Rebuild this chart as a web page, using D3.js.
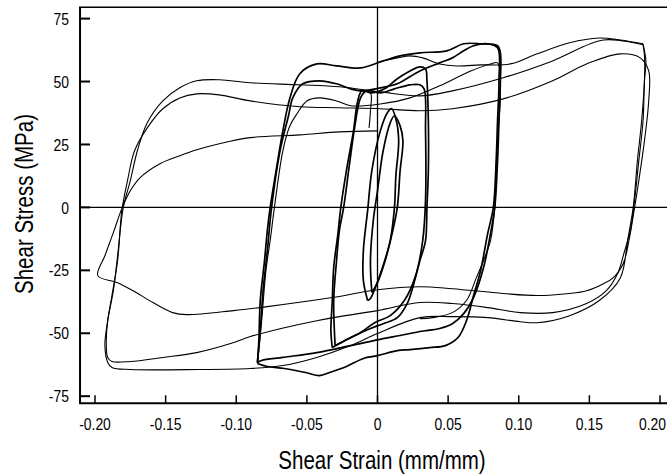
<!DOCTYPE html>
<html>
<head>
<meta charset="utf-8">
<script src="https://cdn.jsdelivr.net/npm/d3@7"></script>
<style>
	body { margin: 0; background: #fff; }
	svg { display: block; }
	.tick-label { font-family: "Liberation Sans", Arial, sans-serif; font-size: 17px; fill: #000; }
	.axis-title { font-family: "Liberation Sans", Arial, sans-serif; font-size: 25px; fill: #000; }
</style>
</head>
<body>
<div id="containerChart"></div>
<script>
// tick values for both axes
var xTicks = [-0.20, -0.15, -0.10, -0.05, 0, 0.05, 0.10, 0.15, 0.20];
var xTickLabels = ["-0.20", "-0.15", "-0.10", "-0.05", "0", "0.05", "0.10", "0.15", "0.20"];
var yTicks = [75, 50, 25, 0, -25, -50, -75];

// small cycles near the origin [strain, stress]
var tinyCycle1 = [[-0.007, -37.0], [-0.010, -29.1], [-0.010, -17.2], [-0.007, -1.3], [-0.004, 14.6], [0.002, 30.4], [0.007, 37.6],
	[0.010, 39.2], [0.013, 35.2], [0.015, 26.5], [0.013, 12.6], [0.012, -0.1], [0.009, -13.2], [0.004, -23.1], [-0.001, -31.1],
	[-0.005, -36.2], [-0.007, -37.0]];
var tinyCycle2 = [[-0.004, -33.8], [-0.005, -21.2], [-0.003, -5.3], [0.000, 6.6], [0.004, 22.5], [0.009, 33.6], [0.012, 36.4],
	[0.016, 32.4], [0.018, 26.5], [0.016, 14.6], [0.014, -0.1], [0.010, -11.2], [0.005, -21.9], [0.000, -29.9], [-0.004, -33.8]];

// cycles at about +-0.035
var smallCycle1 = [[-0.032, -55.7], [-0.033, -48.9], [-0.032, -37.0], [-0.031, -23.9], [-0.028, -10.4], [-0.026, -0.1], [-0.022, 14.6],
	[-0.017, 30.4], [-0.014, 42.3], [-0.011, 46.3], [-0.004, 45.5], [0.005, 47.1], [0.014, 51.1], [0.023, 54.2], [0.030, 55.8],
	[0.034, 55.0], [0.035, 50.3], [0.036, 34.4], [0.036, 14.6], [0.035, -0.1], [0.034, -13.2], [0.030, -21.2], [0.025, -31.7],
	[0.021, -38.2], [0.014, -43.8], [0.004, -46.2], [-0.005, -48.1], [-0.016, -50.9], [-0.023, -52.9], [-0.032, -55.7]];
var smallCycle2 = [[-0.030, -54.9], [-0.031, -37.0], [-0.029, -21.2], [-0.027, -9.2], [-0.024, -0.1], [-0.020, 16.5], [-0.016, 32.4],
	[-0.012, 43.5], [-0.008, 46.3], [0.002, 45.5], [0.012, 47.1], [0.023, 48.7], [0.030, 48.7], [0.033, 47.1], [0.034, 30.4],
	[0.034, 2.7], [0.032, -13.2], [0.027, -27.1], [0.019, -37.0], [0.009, -43.0], [-0.002, -45.8], [-0.012, -49.7],
	[-0.023, -52.9], [-0.030, -54.9]];
var smallSpur = [[-0.011, 46.3], [-0.005, 45.5], [-0.005, 38.4], [-0.006, 31.6]];

// cycles at about +-0.085
var midCycle1 = [[-0.085, -61.6], [-0.084, -52.9], [-0.083, -37.0], [-0.080, -21.2], [-0.078, -9.2], [-0.076, -0.1], [-0.071, 17.3],
	[-0.067, 30.4], [-0.062, 43.5], [-0.055, 53.1], [-0.043, 57.0], [-0.029, 56.2], [-0.012, 55.4], [0.004, 58.2], [0.016, 60.2],
	[0.030, 61.4], [0.049, 62.2], [0.061, 65.0], [0.073, 65.0], [0.085, 64.2], [0.087, 61.4], [0.087, 50.3], [0.086, 34.4],
	[0.085, 18.5], [0.083, -0.1], [0.080, -10.4], [0.075, -24.1], [0.068, -35.8], [0.061, -42.2], [0.053, -46.2], [0.044, -48.1],
	[0.030, -49.3], [0.016, -50.9], [0.004, -52.1], [-0.019, -54.9], [-0.043, -57.7], [-0.067, -59.6], [-0.082, -60.8], [-0.085, -61.6]];
var midCycle2 = [[-0.085, -61.6], [-0.083, -48.9], [-0.081, -33.1], [-0.078, -17.2], [-0.075, -0.1], [-0.069, 22.5], [-0.063, 36.4],
	[-0.060, 43.5], [-0.053, 49.1], [-0.041, 50.3], [-0.029, 49.1], [-0.019, 47.1], [-0.012, 46.3], [0.002, 47.5], [0.014, 49.1],
	[0.030, 54.2], [0.044, 57.4], [0.053, 59.4], [0.061, 62.2], [0.068, 64.2], [0.078, 65.0], [0.085, 63.4], [0.086, 50.3],
	[0.085, 34.4], [0.084, 18.5], [0.082, -0.1], [0.078, -10.4], [0.073, -25.1], [0.068, -35.0], [0.063, -45.0], [0.057, -51.7],
	[0.048, -54.9], [0.037, -55.7], [0.023, -56.5], [0.014, -56.9], [0.000, -58.9], [-0.010, -60.0], [-0.022, -63.2],
	[-0.034, -65.6], [-0.041, -66.8], [-0.051, -65.6], [-0.066, -64.0], [-0.078, -63.2], [-0.085, -62.0]];
var midCycle3 = [[-0.085, -62.0], [-0.082, -45.0], [-0.079, -25.1], [-0.076, -13.2], [-0.073, -0.1], [-0.067, 22.5], [-0.062, 32.4],
	[-0.057, 37.2], [-0.050, 42.3], [-0.041, 43.5], [-0.029, 42.3], [-0.019, 40.4], [0.002, 41.1], [0.023, 43.5], [0.044, 48.3],
	[0.066, 54.2], [0.080, 57.0], [0.085, 57.4], [0.087, 46.3], [0.085, 26.5], [0.083, -0.1], [0.080, -13.2], [0.075, -21.2],
	[0.070, -27.9], [0.063, -37.0], [0.053, -41.8], [0.039, -43.8], [0.030, -44.2]];

// large cycles at about +-0.19
var bigRise = [[0.004, 58.2], [0.014, 59.4], [0.023, 60.2], [0.032, 59.4], [0.044, 57.0], [0.056, 56.2], [0.073, 56.6], [0.094, 57.0],
	[0.113, 61.0], [0.136, 65.4], [0.157, 67.3], [0.172, 66.5], [0.188, 65.0]];
var bigCycle1 = [[0.188, 65.0], [0.190, 58.2], [0.189, 50.3], [0.188, 34.4], [0.185, 18.5], [0.182, 2.7], [0.179, -9.2], [0.175, -17.2],
	[0.170, -26.3], [0.162, -33.1], [0.148, -38.2], [0.124, -41.8], [0.101, -41.8], [0.078, -39.8], [0.053, -38.2], [0.030, -37.8],
	[0.000, -41.0], [-0.043, -45.0], [-0.090, -51.3], [-0.104, -54.1], [-0.128, -57.7], [-0.152, -59.6], [-0.175, -61.2],
	[-0.188, -61.2], [-0.191, -59.6], [-0.192, -52.9], [-0.191, -45.0], [-0.187, -33.1], [-0.184, -19.2], [-0.180, -0.1],
	[-0.175, 10.6], [-0.170, 22.5], [-0.163, 33.6], [-0.152, 42.3], [-0.140, 47.5], [-0.128, 50.3], [-0.112, 50.7], [-0.090, 49.5],
	[-0.055, 48.7], [-0.027, 47.9], [0.002, 45.9], [0.030, 44.3], [0.053, 46.3], [0.089, 51.5], [0.124, 58.2], [0.160, 66.5],
	[0.188, 64.6]];
var bigCycle2 = [[0.188, 64.6], [0.189, 60.2], [0.189, 50.3], [0.187, 34.4], [0.184, 18.5], [0.181, -0.1], [0.177, -13.2],
	[0.172, -27.9], [0.157, -37.0], [0.136, -43.0], [0.113, -45.8], [0.101, -45.4], [0.078, -43.8], [0.053, -43.4], [0.030, -43.8],
	[0.000, -50.1], [-0.019, -54.9], [-0.043, -59.6], [-0.067, -62.8], [-0.090, -64.0], [-0.126, -64.4], [-0.175, -64.4],
	[-0.188, -63.6], [-0.191, -61.6], [-0.193, -54.9], [-0.191, -45.0], [-0.188, -35.0], [-0.184, -21.2], [-0.181, -1.3],
	[-0.177, 10.6], [-0.172, 22.5], [-0.163, 31.6], [-0.152, 39.2], [-0.140, 43.5], [-0.128, 45.1], [-0.112, 44.7], [-0.090, 42.3],
	[-0.055, 40.0], [-0.027, 39.6], [0.002, 39.2], [0.030, 38.4], [0.053, 39.2], [0.089, 43.1], [0.124, 50.3], [0.148, 57.0],
	[0.172, 61.0], [0.186, 59.4], [0.192, 54.2], [0.192, 42.3], [0.189, 26.5], [0.185, 10.6], [0.182, -0.1], [0.178, -13.2],
	[0.174, -22.3], [0.167, -27.9], [0.160, -30.3], [0.148, -33.1], [0.136, -34.2], [0.113, -35.0], [0.089, -34.2],
	[0.053, -32.3], [0.030, -31.5], [0.000, -32.7], [-0.032, -35.8], [-0.078, -39.4], [-0.102, -41.0], [-0.135, -42.6],
	[-0.145, -41.8], [-0.159, -37.8], [-0.173, -33.1], [-0.184, -29.9], [-0.198, -27.1], [-0.193, -19.2], [-0.187, -10.0],
	[-0.181, -0.5], [-0.175, 6.6], [-0.168, 11.8], [-0.154, 17.3], [-0.140, 20.5], [-0.128, 22.9], [-0.112, 25.3], [-0.090, 27.7],
	[-0.055, 28.8], [-0.027, 30.0], [0.000, 30.4]];

// which curves are drawn heavier (overlapping traces in the original)
var thinCurves = [bigRise, bigCycle1, bigCycle2, midCycle3, smallSpur];
var thickCurves = [midCycle1, midCycle2, smallCycle1, smallCycle2, tinyCycle1, tinyCycle2];

var width = 667, height = 475;
// the original uses a narrow face, squeeze the text horizontally
var narrow = 0.82;

// frame limits of the plotting area
var frame = { left: -0.2106, right: 0.215, bottom: -77.8, top: 79.5 };

var x = d3.scaleLinear()
	.domain([-0.2, 0.2])
	.range([95, 660]);

var y = d3.scaleLinear()
	.domain([-75, 75])
	.range([396.2, 18.6]);

var svg = d3.select("#containerChart")
	.append("svg")
	.attr("width", width)
	.attr("height", height);

var g = svg.append("g");

// line generator for the hysteresis traces
var line = d3.line()
	.x(function (d) { return x(d[0]); })
	.y(function (d) { return y(d[1]); })
	.curve(d3.curveCatmullRom.alpha(0.5));

// zero reference lines
g.append("line")
	.attr("x1", x(frame.left)).attr("x2", x(frame.right))
	.attr("y1", y(0)).attr("y2", y(0))
	.attr("stroke", "#000").attr("stroke-width", 1.3);
g.append("line")
	.attr("x1", x(0)).attr("x2", x(0))
	.attr("y1", y(frame.top)).attr("y2", y(frame.bottom))
	.attr("stroke", "#000").attr("stroke-width", 1.3);

// curves
g.selectAll("path.thin")
	.data(thinCurves)
	.enter()
	.append("path")
	.attr("class", "thin")
	.attr("d", line)
	.attr("fill", "none")
	.attr("stroke", "#000")
	.attr("stroke-width", 1.1)
	.attr("stroke-linejoin", "round");

g.selectAll("path.thick")
	.data(thickCurves)
	.enter()
	.append("path")
	.attr("class", "thick")
	.attr("d", line)
	.attr("fill", "none")
	.attr("stroke", "#000")
	.attr("stroke-width", 1.7)
	.attr("stroke-linejoin", "round");

// frame: left, bottom and top borders
g.append("line")
	.attr("x1", x(frame.left)).attr("x2", x(frame.left))
	.attr("y1", y(frame.top)).attr("y2", y(frame.bottom))
	.attr("stroke", "#000").attr("stroke-width", 2);
g.append("line")
	.attr("x1", x(frame.left) - 1).attr("x2", x(frame.right))
	.attr("y1", y(frame.bottom)).attr("y2", y(frame.bottom))
	.attr("stroke", "#000").attr("stroke-width", 2);
g.append("line")
	.attr("x1", x(frame.left) - 1).attr("x2", x(frame.right))
	.attr("y1", y(frame.top)).attr("y2", y(frame.top))
	.attr("stroke", "#000").attr("stroke-width", 1.6);

// inward ticks
g.selectAll("line.ytick")
	.data(yTicks)
	.enter()
	.append("line")
	.attr("class", "ytick")
	.attr("x1", x(frame.left)).attr("x2", x(frame.left) + 10)
	.attr("y1", function (d) { return y(d); })
	.attr("y2", function (d) { return y(d); })
	.attr("stroke", "#000").attr("stroke-width", 2);

g.selectAll("line.xtick")
	.data(xTicks)
	.enter()
	.append("line")
	.attr("class", "xtick")
	.attr("x1", function (d) { return x(d); })
	.attr("x2", function (d) { return x(d); })
	.attr("y1", y(frame.bottom)).attr("y2", y(frame.bottom) - 8)
	.attr("stroke", "#000").attr("stroke-width", 1.5);

// tick labels
g.selectAll("text.ylab")
	.data(yTicks)
	.enter()
	.append("text")
	.attr("class", "tick-label ylab")
	.attr("transform", function (d) { return "translate(69," + y(d) + ") scale(" + narrow + ",1)"; })
	.attr("dy", "0.36em")
	.attr("text-anchor", "end")
	.text(function (d) { return d; });

g.selectAll("text.xlab")
	.data(xTicks)
	.enter()
	.append("text")
	.attr("class", "tick-label xlab")
	.attr("transform", function (d, i) {
		// last label sits against the right edge
		var px = i === xTicks.length - 1 ? width - 1 : x(d);
		return "translate(" + px + ",430) scale(" + narrow + ",1)";
	})
	.attr("text-anchor", function (d, i) { return i === xTicks.length - 1 ? "end" : "middle"; })
	.text(function (d, i) { return xTickLabels[i]; });

// axis titles
g.append("text")
	.attr("class", "axis-title")
	.attr("transform", "translate(382,469) scale(" + narrow + ",1)")
	.attr("text-anchor", "middle")
	.text("Shear Strain (mm/mm)");

g.append("text")
	.attr("class", "axis-title")
	.attr("transform", "translate(33,204) rotate(-90) scale(" + narrow + ",1)")
	.attr("text-anchor", "middle")
	.text("Shear Stress (MPa)");
</script>
</body>
</html>
